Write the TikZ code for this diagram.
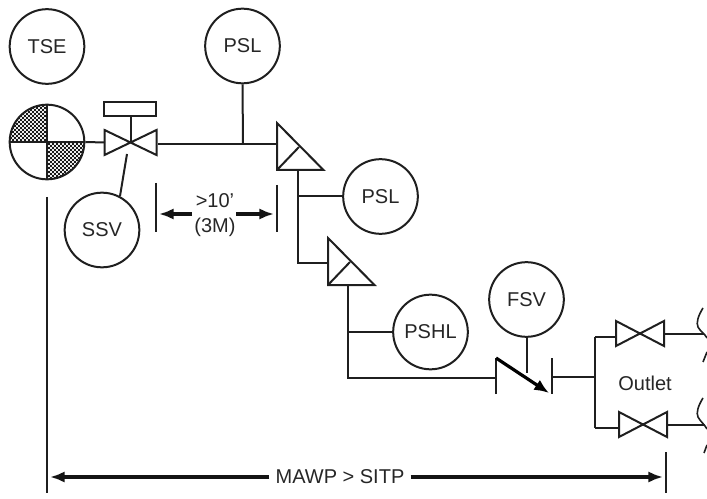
\documentclass[tikz,border=0pt]{standalone}
\usepackage{fontspec}
\setmainfont{Liberation Sans}
\usetikzlibrary{arrows.meta}
\tikzset{
  wire/.style={draw=black!88,line width=1.5pt,line join=miter},
  inst/.style={circle,draw=black!88,line width=1.5pt,minimum size=56pt,inner sep=0pt,font=\fontsize{15}{18}\selectfont,text=black!85},
  lbl/.style={inner sep=1pt,font=\fontsize{15}{18}\selectfont,text=black!85,align=center},
  dimline/.style={draw=black!88,line width=1.5pt},
  dimarrow/.style={draw=black!92,line width=2.4pt,-{Latex[length=11pt,width=8.5pt]}},
}
\newcommand{\valve}[4]{% name, x, y, half width
  \coordinate (#1) at (#2,#3);
  \draw[wire] (#2,#3) -- ++(-#4,-12.5) -- ++(0,25) -- cycle;
  \draw[wire] (#2,#3) -- ++(#4,-12.5) -- ++(0,25) -- cycle;
}
\newcommand{\reducer}[3]{% top apex name, x, y
  \coordinate (#1) at (#2,#3);
  \coordinate (#1bl) at (#2,#3+47);
  \coordinate (#1br) at (#2+46.5,#3+47);
  \coordinate (#1m) at (#2+22,#3+24);
  \draw[wire] (#1) -- (#1br) -- (#1bl) -- cycle;
  \draw[wire] (#1bl) -- (#1m);
}
\begin{document}
\begin{tikzpicture}[x=0.75pt,y=-0.75pt]
\useasboundingbox (0,0) rectangle (707,499);
% instruments
\node[inst] (tse) at (47,46.5) {TSE};
\node[inst] (psla) at (242.5,46) {PSL};
\node[inst] (ssv) at (102,230) {SSV};
\node[inst] (pslb) at (380.5,196.5) {PSL};
\node[inst] (pshl) at (430.5,332) {PSHL};
\node[inst] (fsv) at (526.5,299.5) {FSV};
% TSE ball
\coordinate (ball) at (47,142);
\begin{scope}
  \clip (ball) -- ++(-38,0) -- ++(0,-38) -- ++(38,0) -- cycle
        (ball) -- ++(38,0) -- ++(0,38) -- ++(-38,0) -- cycle;
  \clip (ball) circle (37.5);
  \fill[black!8] (8,103) rectangle (86,181);
  \foreach \i in {0,...,19}{\foreach \j in {0,...,19}{
    \fill[black!90] (8+4*\i,103+4*\j) rectangle ++(2.1,2.1);
    \fill[black!90] (10+4*\i,105+4*\j) rectangle ++(2.1,2.1);
  }}
\end{scope}
\node[circle,draw=black!88,line width=1.5pt,minimum size=56pt,inner sep=0pt] (ballc) at (ball) {};
\draw[wire] (ballc.north) -- (ballc.south);
\draw[wire] (ballc.west) -- (ballc.east);
% SSV
\valve{va}{130.5}{142.5}{26}
\node[draw=black!88,line width=1.5pt,minimum width=39pt,minimum height=10.5pt,inner sep=0pt] (act) at (129.5,109) {};
\draw[wire] (va) -- (va |- act.south);
\draw[wire] (ballc.east) -- (105,142.5);
\coordinate (vaout) at (158,144);
\coordinate (ssvtop) at (127,154);
\draw[wire] (ssvtop) -- (ssv.62);
% main line
\reducer{ra}{277}{123}
\coordinate (tee) at (243,144);
\coordinate (rain) at (277,144);
\draw[wire] (vaout) -- (rain);
\draw[wire] (psla.south) -- (tee);
% second stage
\reducer{rb}{328}{238}
\coordinate (raout) at (298,170);
\coordinate (rbin) at (328,263);
\draw[wire] (raout) |- (rbin);
\draw[wire] (raout |- pslb.west) -- (pslb.west);
% third stage
\coordinate (rbout) at (348,284);
\coordinate (chkin) at (496,378);
\draw[wire] (rbout) |- (chkin);
\draw[wire] (rbout |- pshl.west) -- (pshl.west);
% FSV check valve
\coordinate (chkt) at (496,358);
\coordinate (chkb) at (496,394);
\coordinate (chkr) at (552,377);
\draw[wire] (chkb) -- (chkt);
\draw[draw=black,line width=2.4pt,-{Latex[length=11pt,width=9pt]}] (chkt) -- (549,393);
\draw[wire] (552,358) -- (552,394);
\draw[wire] (fsv.south) -- (526.5,373);
% outlet header
\coordinate (hdr) at (595,377);
\coordinate (hdrt) at (595,337);
\coordinate (hdrb) at (595,428);
\draw[wire] (chkr) -- (hdr);
\draw[wire] (hdrt) -- (hdrb);
\valve{vb}{640}{333.5}{24}
\valve{vc}{643}{424.5}{24}
\draw[wire] (hdrt) -- (616,337);
\draw[wire] (hdrb) -- (619,428);
\coordinate (ea) at (704,334);
\coordinate (eb) at (705,425);
\draw[wire] (664,334) -- (ea);
\draw[wire] (667,425) -- (eb);
\node[lbl] (outlet) at (645,383) {Outlet};
% break marks
\draw[wire,line width=1.2pt] (703,308) .. controls (698,316) and (696,323) .. (698,327) .. controls (700,331) and (705,334) .. (707,338);
\draw[wire,line width=1.2pt] (707,352) -- (703,362);
\draw[wire,line width=1.2pt] (703,398) .. controls (698,406) and (696,413) .. (698,417) .. controls (700,421) and (705,425) .. (707,429);
\draw[wire,line width=1.2pt] (707,445) -- (704,453);
% short dimension
\coordinate (dl) at (156,183);
\coordinate (dlb) at (156,232);
\coordinate (dr) at (277,185);
\coordinate (drb) at (277,232);
\draw[dimline] (dl) -- (dlb);
\draw[dimline] (dr) -- (drb);
\node[lbl] (dt) at (215,201) {>10’};
\node[lbl] (dm) at (215,227.5) {(3M)};
\coordinate (al) at (192,214);
\coordinate (ar) at (236,214);
\draw[dimarrow] (al) -- (159,214);
\draw[dimarrow] (ar) -- (274,214);
% long dimension
\coordinate (lt) at (47,197);
\coordinate (lb) at (47,493);
\coordinate (rt) at (666,452);
\coordinate (rb) at (666,493);
\draw[dimline] (lt) -- (lb);
\draw[dimline] (rt) -- (rb);
\node[lbl,inner sep=4.5pt] (mawp) at (340,477) {MAWP > SITP};
\draw[dimarrow] (mawp.west) -- (50,477);
\draw[dimarrow] (mawp.east) -- (663,477);
\end{tikzpicture}
\end{document}
